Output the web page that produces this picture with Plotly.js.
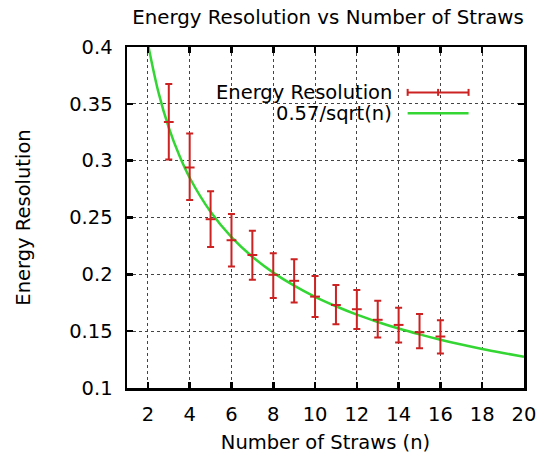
<!DOCTYPE html>
<html>
<head>
<meta charset="utf-8">
<script src="https://cdn.plot.ly/plotly-3.0.1.min.js"></script>
<style>
  html, body { margin: 0; padding: 0; background: #fff; }
  #chart { width: 548px; height: 459px; }
</style>
</head>
<body>
<div id="chart"></div>
<script>
// ---- data ----
const strawCounts = [3, 4, 5, 6, 7, 8, 9, 10, 11, 12, 13, 14, 15, 16];
const resolution  = [0.334, 0.294, 0.2485, 0.230, 0.217, 0.1996, 0.1943, 0.1804, 0.173, 0.1693, 0.160, 0.1555, 0.149, 0.1453];
const errUpper    = [0.3675, 0.324, 0.273, 0.253, 0.2384, 0.2186, 0.2133, 0.1985, 0.1906, 0.1862, 0.1768, 0.1707, 0.1652, 0.1597];
const errLower    = [0.301, 0.2655, 0.224, 0.2068, 0.1952, 0.1791, 0.1753, 0.1625, 0.156, 0.152, 0.1444, 0.140, 0.135, 0.1304];

// green fit curve 0.57/sqrt(n)
const curveN      = [2, 2.5, 3, 3.5, 4, 5, 6, 7, 8, 9, 10, 11, 12, 13, 14, 15, 16, 17, 18, 19, 20];
const curveValues = [0.403, 0.3605, 0.329, 0.3047, 0.285, 0.255, 0.2327, 0.2154, 0.2015, 0.190, 0.1802, 0.1719, 0.1645, 0.1581, 0.1523, 0.1472, 0.1425, 0.1382, 0.1343, 0.1308, 0.1275];

const xTicks = [2, 4, 6, 8, 10, 12, 14, 16, 18, 20];
const yTicks = [0.1, 0.15, 0.2, 0.25, 0.3, 0.35, 0.4];
const yTickText = ['0.1', '0.15', '0.2', '0.25', '0.3', '0.35', '0.4'];

const legendLabels = ['Energy Resolution', '0.57/sqrt(n)'];

// ---- styling ----
const RED = '#cc2222';
const GREEN = '#33d633';
const FONT = 'DejaVu Sans, Liberation Sans, Arial, sans-serif';

const W = 548, H = 459;
const M = { l: 127, r: 23.5, t: 46.5, b: 70.7 };
const PW = W - M.l - M.r, PH = H - M.t - M.b;
// pixel -> paper helpers for legend decoration
const px = x => (x - M.l) / PW;
const py = y => 1 - (y - M.t) / PH;

const errorTrace = {
  x: strawCounts,
  y: resolution,
  type: 'scatter',
  mode: 'markers',
  name: legendLabels[0],
  marker: { symbol: 'line-ew', size: 7, color: RED, line: { color: RED, width: 2 } },
  error_y: {
    type: 'data',
    symmetric: false,
    array: errUpper.map((u, i) => u - resolution[i]),
    arrayminus: errLower.map((l, i) => resolution[i] - l),
    color: RED,
    thickness: 2,
    width: 3.5
  },
  showlegend: false,
  hoverinfo: 'x+y'
};

const curveTrace = {
  x: curveN,
  y: curveValues,
  type: 'scatter',
  mode: 'lines',
  name: legendLabels[1],
  line: { color: GREEN, width: 2.5, shape: 'spline' },
  showlegend: false
};

// manual gnuplot-style key: text on the left, sample on the right
const keyY1 = 92, keyY2 = 113;
const sampleX0 = 408, sampleX1 = 469, sampleMid = 438.5;
const shapes = [
  { type: 'rect', xref: 'paper', yref: 'paper', x0: px(208), x1: px(483), y0: py(127), y1: py(73),
    fillcolor: '#ffffff', line: { width: 0 }, layer: 'between' },
  { type: 'line', xref: 'paper', yref: 'paper', x0: px(sampleX0), x1: px(sampleX1), y0: py(keyY1), y1: py(keyY1),
    line: { color: RED, width: 2 } },
  { type: 'line', xref: 'paper', yref: 'paper', x0: px(sampleX0), x1: px(sampleX0), y0: py(keyY1 - 3.5), y1: py(keyY1 + 3.5),
    line: { color: RED, width: 2 } },
  { type: 'line', xref: 'paper', yref: 'paper', x0: px(sampleMid), x1: px(sampleMid), y0: py(keyY1 - 3.5), y1: py(keyY1 + 3.5),
    line: { color: RED, width: 2 } },
  { type: 'line', xref: 'paper', yref: 'paper', x0: px(sampleX1), x1: px(sampleX1), y0: py(keyY1 - 3.5), y1: py(keyY1 + 3.5),
    line: { color: RED, width: 2 } },
  { type: 'line', xref: 'paper', yref: 'paper', x0: px(sampleX0), x1: px(sampleX1), y0: py(keyY2), y1: py(keyY2),
    line: { color: GREEN, width: 2.5 } }
];

const annotations = [
  { text: legendLabels[0], xref: 'paper', yref: 'paper', x: px(394), y: py(keyY1), xanchor: 'right', yanchor: 'middle',
    showarrow: false, font: { family: FONT, size: 19.5, color: '#000' } },
  { text: legendLabels[1], xref: 'paper', yref: 'paper', x: px(394), y: py(keyY2), xanchor: 'right', yanchor: 'middle',
    showarrow: false, font: { family: FONT, size: 19.5, color: '#000' } }
];

const axisCommon = {
  showline: true,
  linecolor: '#000',
  linewidth: 2.5,
  mirror: 'ticks',
  ticks: 'inside',
  ticklen: 6,
  tickwidth: 2.5,
  tickcolor: '#000',
  showgrid: true,
  gridcolor: '#444',
  gridwidth: 1,
  griddash: 'dot',
  zeroline: false,
  tickfont: { family: FONT, size: 19.5, color: '#000' }
};

const layout = {
  width: W,
  height: H,
  margin: M,
  paper_bgcolor: '#fff',
  plot_bgcolor: '#fff',
  font: { family: FONT, color: '#000' },
  title: {
    text: 'Energy Resolution vs Number of Straws',
    font: { family: FONT, size: 19.8, color: '#000' },
    x: 328 / W, xanchor: 'center', xref: 'container',
    y: 1 - 17 / H, yanchor: 'middle', yref: 'container'
  },
  xaxis: Object.assign({}, axisCommon, {
    range: [1, 20],
    tickmode: 'array',
    tickvals: xTicks,
    ticktext: xTicks.map(String),
    ticklabelstandoff: 7,
    title: { text: 'Number of Straws (n)', font: { family: FONT, size: 19.5, color: '#000' }, standoff: 11 }
  }),
  yaxis: Object.assign({}, axisCommon, {
    range: [0.1, 0.4],
    tickmode: 'array',
    tickvals: yTicks,
    ticktext: yTickText,
    ticklabelstandoff: 8,
    title: { text: 'Energy Resolution', font: { family: FONT, size: 19.5, color: '#000' }, standoff: 34 }
  }),
  shapes: shapes,
  annotations: annotations,
  showlegend: false
};

Plotly.newPlot('chart', [curveTrace, errorTrace], layout, { displayModeBar: false, staticPlot: true });
</script>
</body>
</html>
